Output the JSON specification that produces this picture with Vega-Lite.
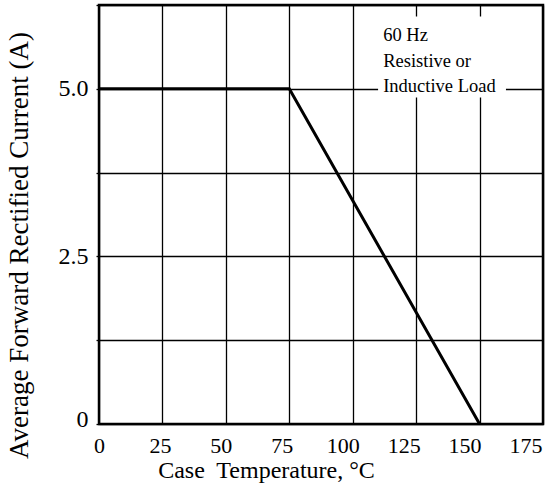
{
  "$schema": "https://vega.github.io/schema/vega-lite/v6.json",
  "width": 444,
  "height": 419,
  "autosize": {"type": "none"},
  "padding": {"left": 99, "top": 5, "right": 3, "bottom": 69},
  "background": "white",
  "config": {
    "font": "Liberation Serif",
    "view": {"stroke": "black", "strokeWidth": 2.5},
    "axis": {
      "grid": true,
      "gridColor": "black",
      "gridWidth": 1.3,
      "gridOpacity": 1,
      "domain": false,
      "labelFont": "Liberation Serif",
      "labelColor": "black",
      "labelFontSize": 22,
      "titleFont": "Liberation Serif",
      "titleFontSize": 24,
      "titleFontWeight": "normal",
      "titleColor": "black"
    }
  },
  "layer": [
    {
      "data": {"values": [{"x": 110, "x2": 160.4, "y": 6.08, "y2": 4.87}]},
      "mark": {"type": "rect", "fill": "white"},
      "encoding": {
        "x": {
          "field": "x",
          "type": "quantitative",
          "scale": {"domain": [0, 175], "nice": false, "zero": false},
          "axis": {
            "title": "Case\u00a0 Temperature, °C",
            "values": [0, 25, 50, 75, 100, 125, 150, 175],
            "ticks": false,
            "labelPadding": 11,
            "labelFlush": false,
            "labelOffset": {"expr": "-datum.value * 0.1"},
            "titleX": 167,
            "titleY": 53,
            "titleAlign": "center",
            "titleBaseline": "alphabetic"
          }
        },
        "x2": {"field": "x2"},
        "y": {
          "field": "y",
          "type": "quantitative",
          "scale": {"domain": [0, 6.25], "nice": false, "zero": false},
          "axis": {
            "title": "Average Forward Rectified Current (A)",
            "values": [0, 1.25, 2.5, 3.75, 5, 6.25],
            "labelExpr": "datum.value == 0 ? '0' : datum.value == 2.5 ? '2.5' : datum.value == 5 ? '5.0' : ''",
            "tickSize": 3,
            "tickColor": "black",
            "tickWidth": 1.3,
            "labelPadding": 8,
            "labelFontSize": 24,
            "labelFlush": false,
            "labelOffset": {"expr": "datum.value == 0 ? -5 : 0"},
            "titleFontSize": 27,
            "titleX": -66,
            "titleY": 240,
            "titleAngle": -90,
            "titleAlign": "center",
            "titleBaseline": "bottom"
          }
        },
        "y2": {"field": "y2"}
      }
    },
    {
      "data": {"values": [
        {"x": 0, "y": 5.0},
        {"x": 75, "y": 5.0},
        {"x": 150, "y": 0}
      ]},
      "mark": {"type": "line", "color": "black", "strokeWidth": 3},
      "encoding": {
        "x": {"field": "x", "type": "quantitative"},
        "y": {"field": "y", "type": "quantitative"}
      }
    },
    {
      "data": {"values": [
        {"x": 112, "y": 5.72, "note": "60 Hz"},
        {"x": 112, "y": 5.33, "note": "Resistive or"},
        {"x": 112, "y": 4.95, "note": "Inductive Load"}
      ]},
      "mark": {"type": "text", "align": "left", "baseline": "alphabetic", "fontSize": 18.5, "font": "Liberation Serif", "color": "black"},
      "encoding": {
        "x": {"field": "x", "type": "quantitative"},
        "y": {"field": "y", "type": "quantitative"},
        "text": {"field": "note"}
      }
    }
  ]
}
